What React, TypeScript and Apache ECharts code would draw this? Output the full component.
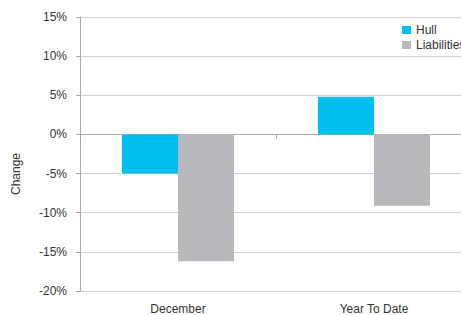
import React, { useEffect, useRef } from "react";
import * as echarts from "echarts";

const categories = ["December", "Year To Date"];
const hullValues = [-5.0, 4.8];
const liabilityValues = [-16.2, -9.1];
const yMin = -20;
const yMax = 15;
const yInterval = 5;

export default function App() {
  const ref = useRef<HTMLDivElement>(null);
  useEffect(() => {
    if (!ref.current) return;
    const chart = echarts.init(ref.current, null, { renderer: "svg" });
    const font = "Liberation Sans, Arial, sans-serif";
    chart.setOption({
      animation: false,
      textStyle: { fontFamily: font },
      grid: { left: 80, top: 17, right: 0, bottom: 24, containLabel: false },
      legend: {
        orient: "vertical",
        left: 402,
        top: 24,
        itemWidth: 9,
        itemHeight: 8,
        itemGap: 3,
        icon: "rect",
        padding: 0,
        textStyle: { fontSize: 12, color: "#333333", fontFamily: font },
        data: ["Hull", "Liabilities"],
      },
      graphic: [
        {
          type: "text",
          x: 16,
          y: 174,
          rotation: Math.PI / 2,
          style: {
            text: "Change",
            fontSize: 12,
            fontFamily: font,
            fill: "#333333",
            align: "center",
            verticalAlign: "middle",
          },
        },
      ],
      xAxis: [
        {
          type: "category",
          data: categories,
          position: "bottom",
          axisLine: { onZero: true, lineStyle: { color: "#b0b0b0", width: 1 } },
          axisTick: { show: true, length: 4, lineStyle: { color: "#a0a0a0" } },
          axisLabel: { show: false },
          splitLine: { show: false },
        },
        {
          type: "category",
          data: categories,
          position: "bottom",
          axisLine: { show: false, onZero: false },
          axisTick: { show: false },
          axisLabel: { show: true, margin: 12, fontSize: 12, color: "#333333", fontFamily: font },
          splitLine: { show: false },
        },
      ],
      yAxis: {
        type: "value",
        min: yMin,
        max: yMax,
        interval: yInterval,
        axisLine: { show: true, lineStyle: { color: "#a8a8a8" } },
        axisTick: { show: true, length: 4, lineStyle: { color: "#a8a8a8" } },
        axisLabel: { formatter: "{value}%", margin: 13, fontSize: 12, color: "#333333", fontFamily: font },
        splitLine: { show: true, lineStyle: { color: "#d0d0d0", width: 1 } },
      },
      series: [
        {
          name: "Hull",
          type: "bar",
          xAxisIndex: 0,
          data: hullValues,
          barWidth: 56,
          barGap: "0%",
          itemStyle: { color: "#00c0f0" },
        },
        {
          name: "Liabilities",
          type: "bar",
          xAxisIndex: 0,
          data: liabilityValues,
          barWidth: 56,
          barGap: "0%",
          itemStyle: { color: "#b8b9bc" },
        },
      ],
    });
    return () => chart.dispose();
  }, []);
  return (
    <div style={{ position: "fixed", left: 0, top: 0, width: 461, height: 315, overflow: "hidden", background: "#fff" }}>
      <div ref={ref} style={{ width: 472, height: 315 }} />
    </div>
  );
}
